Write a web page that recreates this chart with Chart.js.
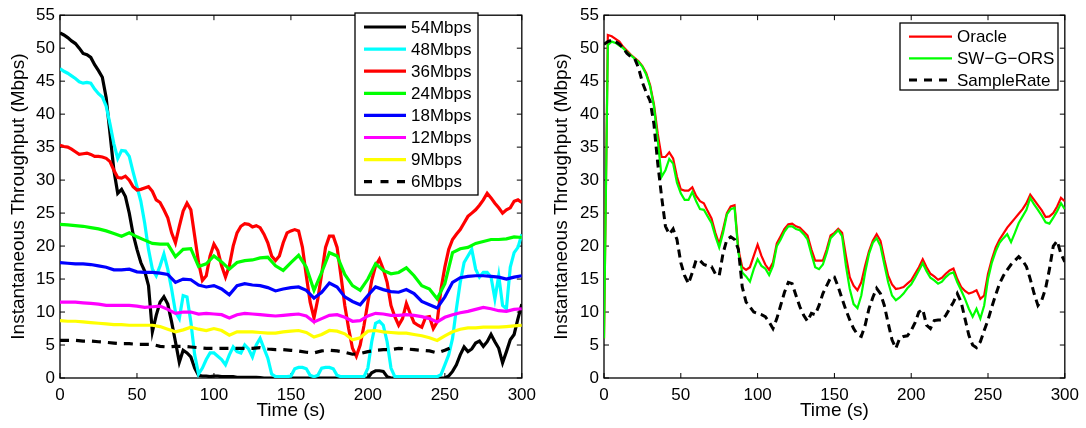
<!DOCTYPE html>
<html>
<head>
<meta charset="utf-8">
<script src="https://cdn.jsdelivr.net/npm/chart.js@4.4.1/dist/chart.umd.min.js"></script>
<style>
  html, body { margin: 0; padding: 0; background: #fff; }
  #wrap { position: relative; width: 1086px; height: 428px; }
  canvas { position: absolute; top: 0; }
  #left { left: 0; }
  #right { left: 543px; }
</style>
</head>
<body>
<div id="wrap">
  <canvas id="left" width="543" height="428"></canvas>
  <canvas id="right" width="543" height="428"></canvas>
</div>
<script>
// time grids (s)
const timeFine = [0,2.5,5,7.5,10,12.5,15,17.5,20,22.5,25,27.5,30,32.5,35,37.5,40,42.5,45,47.5,
  50,52.5,55,57.5,60,62.5,65,67.5,70,72.5,75,77.5,80,82.5,85,87.5,90,92.5,95,97.5,
  100,102.5,105,107.5,110,112.5,115,117.5,120,122.5,125,127.5,130,132.5,135,137.5,140,142.5,145,147.5,
  150,152.5,155,157.5,160,162.5,165,167.5,170,172.5,175,177.5,180,182.5,185,187.5,190,192.5,195,197.5,
  200,202.5,205,207.5,210,212.5,215,217.5,220,222.5,225,227.5,230,232.5,235,237.5,240,242.5,245,247.5,
  250,252.5,255,257.5,260,262.5,265,267.5,270,272.5,275,277.5,280,282.5,285,287.5,290,292.5,295,297.5,300];
const timeCoarse = [0,5,10,15,20,25,30,35,40,45,50,55,60,65,70,75,80,85,90,95,
  100,105,110,115,120,125,130,135,140,145,150,155,160,165,170,175,180,185,190,195,
  200,205,210,215,220,225,230,235,240,245,250,255,260,265,270,275,280,285,290,295,300];

const xTicks = [0, 50, 100, 150, 200, 250, 300];
const yTicks = [0, 5, 10, 15, 20, 25, 30, 35, 40, 45, 50, 55];

// left panel: fixed rates (Mbps)
const rate54 = [52.3,52.0,51.6,51.1,50.7,50.0,49.2,49.0,48.6,47.5,
  46.6,45.6,42.5,37.0,31.5,28.0,28.6,27.5,25.0,21.8,
  19.5,17.5,16.2,14.0,7.0,9.5,11.5,12.3,11.2,8.5,
  5.5,2.4,4.2,3.8,3.2,1.5,0.4,0.3,0.3,0.2,
  0.3,0.3,0.2,0.2,0.2,0.2,0.1,0.1,0.1,0.1,
  0.1,0.1,0.05,0,0,0,0,0,0,0,
  0,0,0,0,0,0,0,0,0,0,
  0,0,0,0,0,0,0,0,0,0,
  0,0.8,1.1,1.1,1.0,0.2,0,0,0,0,
  0,0,0,0,0,0,0,0,0,0,
  0,0.3,1.0,2.0,3.5,4.7,4.0,4.4,5.3,5.6,
  4.8,5.5,6.6,5.5,4.5,2.3,4.0,5.8,6.6,9.0,
  11.2];
const rate48 = [46.9,46.5,46.2,45.8,45.4,44.9,44.7,44.8,44.7,43.8,
  43.1,42.6,41.2,38.5,35.5,33.3,34.5,34.4,33.6,31.2,
  29.0,26.8,23.5,19.5,16.5,15.5,17.0,18.8,16.5,13.5,
  10.0,9.0,12.5,12.3,8.5,3.5,0.6,1.5,2.8,3.8,
  3.8,3.3,2.8,2.0,3.5,4.7,4.0,3.8,5.0,4.4,
  3.2,5.0,6.0,4.5,3.0,0.6,0.2,0.2,0.2,0.2,
  0.3,1.4,1.6,1.6,1.4,0.4,0.2,0.4,1.5,1.6,
  1.6,1.4,0.4,0.2,0.2,0.2,0.2,0.2,0.2,0.2,
  1.5,5.5,8.3,8.6,8.0,5.5,1.5,0.2,0.2,0.2,
  0.2,0.2,0.2,0.2,0.2,0.2,0.2,0.2,0.2,0.5,
  2.0,3.5,6.0,10.5,14.5,17.5,18.5,19.5,16.5,15.3,
  16.0,16.0,15.3,12.0,15.5,11.0,10.5,16.8,19.0,19.8,
  21.8];
const rate36 = [35.3,35.1,35.0,34.7,34.3,33.9,34.0,34.1,33.9,33.6,
  33.6,33.5,33.3,32.8,31.5,30.4,30.3,30.6,30.0,29.0,
  28.5,28.6,28.8,29.0,28.3,27.0,26.6,25.5,24.3,22.0,
  20.5,23.0,25.3,26.5,25.5,21.5,17.5,14.8,15.5,18.5,
  20.3,19.3,17.0,15.3,17.0,20.0,22.0,23.0,23.4,23.3,
  22.9,23.1,22.8,21.8,20.5,18.5,17.8,18.5,20.5,22.0,
  22.3,22.5,22.3,19.8,15.5,11.5,9.1,12.0,15.8,19.8,
  21.5,21.5,19.8,15.5,11.0,7.5,4.5,3.3,5.0,8.0,
  11.5,14.8,17.0,18.0,16.5,14.5,11.0,9.3,8.0,9.0,
  11.3,9.8,8.4,8.0,7.7,9.2,9.3,7.5,8.5,13.5,
  16.8,19.5,21.0,21.8,22.5,23.5,24.5,25.0,25.5,26.2,
  27.0,28.0,27.3,26.5,25.8,25.0,25.5,25.8,26.8,27.0,
  26.6];
const rate24 = [23.3,23.2,23.1,23.0,22.8,22.6,22.3,21.9,21.5,22.0,
  21.4,20.9,20.4,20.3,20.3,18.4,19.5,19.6,16.9,17.3,
  18.5,17.6,16.5,17.5,17.8,17.9,18.2,18.3,17.0,16.3,
  17.5,18.6,16.8,13.3,16.0,19.0,18.5,15.7,14.0,13.3,
  15.0,17.3,16.3,15.8,16.0,16.7,15.5,14.0,13.5,12.0,
  14.3,19.0,19.6,19.8,20.4,20.7,21.0,21.0,21.1,21.4,
  21.3];
const rate18 = [17.5,17.4,17.3,17.3,17.2,17.0,16.8,16.4,16.4,16.5,
  16.1,16.0,16.0,15.9,15.7,14.5,15.0,14.9,14.1,13.8,
  14.0,13.5,12.6,14.0,14.3,14.1,14.0,13.7,13.2,13.5,
  13.7,13.8,13.3,12.1,13.0,14.4,13.8,12.3,11.6,11.1,
  12.5,13.8,13.4,13.1,13.0,13.4,12.8,11.6,11.1,10.6,
  12.3,14.5,15.2,15.4,15.5,15.5,15.4,15.3,15.0,15.3,
  15.5];
const rate12 = [11.5,11.5,11.5,11.4,11.3,11.2,11.0,11.0,11.0,11.0,
  10.9,10.7,10.8,10.9,10.4,9.8,10.0,10.0,9.7,9.8,
  9.7,9.6,9.1,9.6,9.8,9.7,9.6,9.5,9.4,9.5,
  9.6,9.7,9.4,8.5,9.0,9.5,9.6,9.2,8.6,8.7,
  9.4,9.8,9.7,9.5,9.5,9.6,9.5,9.3,9.0,8.5,
  9.2,9.6,9.9,10.1,10.4,10.7,10.5,10.2,10.1,10.4,
  10.5];
const rate9 = [8.7,8.6,8.6,8.5,8.4,8.3,8.2,8.1,8.1,8.0,
  8.0,8.0,8.0,7.8,7.4,7.0,7.3,7.7,7.4,7.2,
  7.5,7.2,6.5,7.0,7.0,7.0,6.9,6.8,6.8,7.0,
  7.1,7.2,6.9,6.2,6.6,7.2,7.1,6.7,5.8,6.1,
  7.1,7.2,7.0,6.9,6.8,6.8,6.6,6.4,6.1,5.7,
  6.4,7.0,7.4,7.6,7.6,7.7,7.7,7.7,7.8,7.9,
  8.0];
const rate6 = [5.7,5.7,5.7,5.6,5.6,5.5,5.4,5.3,5.2,5.2,
  5.1,5.1,5.1,4.8,4.7,4.8,4.8,4.7,4.6,4.5,
  4.5,4.5,4.5,4.5,4.5,4.5,4.6,4.4,4.3,4.3,
  4.2,4.1,3.9,3.8,4.1,4.2,4.1,3.9,3.6,3.7,
  4.0,4.2,4.3,4.3,4.5,4.4,4.3,4.2,4.1,3.8,
  4.2,4.7,null,null,null,null,null,null,null,null,
  null];

// right panel: rate selection schemes (Mbps)
const oracle = [6.0,52.0,51.8,51.4,51.0,50.2,49.6,49.0,48.5,48.0,
  47.3,46.2,44.4,41.5,37.0,33.5,33.5,34.2,33.3,30.5,
  28.6,28.4,28.4,28.9,27.6,26.8,26.5,25.3,24.2,22.0,
  20.3,22.5,25.0,26.0,26.2,19.5,16.8,16.4,16.8,18.5,
  20.2,18.5,17.2,16.4,17.5,20.4,21.5,22.6,23.3,23.4,
  23.0,22.8,22.2,21.6,19.5,17.8,17.8,17.8,19.5,21.6,
  22.0,22.6,22.0,18.5,15.3,14.0,13.3,14.5,17.0,19.2,
  20.8,21.8,20.8,18.0,15.5,14.2,13.5,13.6,13.8,14.3,
  14.8,15.8,16.8,18.0,16.8,15.8,15.4,14.9,15.2,15.8,
  16.3,16.6,15.0,13.8,13.2,12.8,13.0,13.3,12.0,12.5,
  15.8,18.0,19.8,21.0,21.9,22.8,23.5,24.2,24.9,25.6,
  26.5,27.8,27.0,26.2,25.4,24.4,24.5,25.0,26.0,27.3,
  26.8];
const swgors = [6.0,50.5,51.0,50.8,50.4,50.0,49.4,48.9,48.4,47.9,
  47.2,46.0,44.2,41.2,36.0,30.5,31.5,33.2,32.5,29.6,
  28.0,27.0,27.0,28.2,26.8,25.6,25.5,24.5,23.5,21.5,
  19.8,22.0,24.8,25.6,25.8,19.0,16.0,15.4,14.6,16.5,
  18.0,17.0,16.6,15.6,17.0,20.0,21.0,22.2,23.0,23.0,
  22.6,22.4,21.8,21.0,18.8,16.8,16.5,17.2,19.0,21.2,
  21.8,22.4,21.5,17.0,13.5,11.2,10.6,12.5,16.0,18.8,
  20.5,21.2,20.0,17.2,14.5,12.5,11.8,12.2,12.8,13.6,
  14.2,15.2,16.3,17.4,16.2,15.2,14.8,14.3,14.6,15.3,
  15.8,16.0,14.5,13.3,12.0,10.5,9.3,10.5,9.0,11.0,
  15.0,17.5,19.2,20.5,21.2,21.8,20.6,22.0,23.5,24.5,
  25.5,27.3,26.3,25.5,24.6,23.6,23.4,24.3,25.3,26.5,
  25.6];
const sampleRate = [50.6,51.0,51.2,51.0,50.6,50.0,49.2,48.7,48.4,47.0,
  44.8,43.3,42.0,38.5,32.5,27.5,23.0,21.8,22.6,21.0,
  17.5,15.5,14.3,16.0,17.9,17.8,17.2,17.0,16.9,15.8,
  15.5,18.9,21.0,21.4,21.0,19.5,13.8,11.5,10.8,10.0,
  9.8,9.6,9.3,8.5,7.5,9.0,11.0,13.0,14.5,14.3,
  12.5,10.8,9.5,8.6,9.8,9.6,11.0,12.8,14.0,15.2,
  15.3,13.8,12.0,10.3,8.8,7.5,6.6,6.3,8.0,10.5,
  12.2,13.6,12.8,11.0,8.3,5.8,4.5,6.0,6.3,6.4,
  7.2,8.4,10.0,10.4,8.0,7.5,8.7,8.8,8.8,9.5,
  10.5,11.5,12.8,11.5,9.0,6.5,5.0,4.6,5.5,7.2,
  8.8,10.8,12.6,14.3,15.5,16.4,17.2,17.8,18.4,17.8,
  16.9,15.0,12.8,11.0,11.8,13.6,16.5,20.0,20.8,18.8,
  17.6];

Chart.defaults.font.family = '"Liberation Sans", Arial, sans-serif';
Chart.defaults.color = '#000';

function pairs(times, values) {
  return times.map((t, i) => ({ x: t, y: values[i] }));
}

// matlab-like box with inward ticks
const boxFrame = {
  id: 'boxFrame',
  beforeDatasetsDraw(chart) {
    const { ctx, chartArea: a, scales: { x, y } } = chart;
    ctx.save();
    ctx.strokeStyle = '#000';
    ctx.lineWidth = 1.3;
    ctx.strokeRect(a.left, a.top, a.right - a.left, a.bottom - a.top);
    ctx.beginPath();
    xTicks.forEach(v => {
      const px = x.getPixelForValue(v);
      ctx.moveTo(px, a.bottom); ctx.lineTo(px, a.bottom - 5);
      ctx.moveTo(px, a.top); ctx.lineTo(px, a.top + 5);
    });
    yTicks.forEach(v => {
      const py = y.getPixelForValue(v);
      ctx.moveTo(a.left, py); ctx.lineTo(a.left + 5, py);
      ctx.moveTo(a.right, py); ctx.lineTo(a.right - 5, py);
    });
    ctx.lineWidth = 1;
    ctx.stroke();
    ctx.restore();
  }
};

// legend box drawn inside the axes
const boxLegend = {
  id: 'boxLegend',
  afterDraw(chart, args, o) {
    const ctx = chart.ctx;
    ctx.save();
    ctx.fillStyle = '#fff';
    ctx.fillRect(o.x, o.y, o.w, o.h);
    ctx.strokeStyle = '#000';
    ctx.lineWidth = 1.3;
    ctx.strokeRect(o.x, o.y, o.w, o.h);
    chart.data.datasets.forEach((ds, i) => {
      const cy = o.y + o.first + i * o.row;
      ctx.beginPath();
      ctx.setLineDash(ds.borderDash ? o.dash : []);
      ctx.strokeStyle = ds.borderColor;
      ctx.lineWidth = ds.borderWidth;
      ctx.moveTo(o.x + o.lx1, cy);
      ctx.lineTo(o.x + o.lx2, cy);
      ctx.stroke();
      ctx.setLineDash([]);
      ctx.fillStyle = '#000';
      ctx.font = '17px "Liberation Sans", Arial, sans-serif';
      ctx.textBaseline = 'middle';
      ctx.fillText(ds.label, o.x + o.tx, cy + 1);
    });
    ctx.restore();
  }
};

function makeScales(yWidth) {
  return {
    x: {
      type: 'linear', min: 0, max: 300,
      grid: { display: false, drawTicks: false },
      border: { display: false },
      ticks: { stepSize: 50, padding: 7, font: { size: 17 }, maxRotation: 0 },
      title: { display: true, text: 'Time (s)', font: { size: 19 }, padding: { top: 0, bottom: 6 } },
      afterFit(s) { s.height = 50; }
    },
    y: {
      min: 0, max: 55,
      grid: { display: false, drawTicks: false },
      border: { display: false },
      ticks: { stepSize: 5, padding: 5, font: { size: 17 } },
      title: { display: true, text: 'Instantaneous Throughput (Mbps)', font: { size: 19 }, padding: { top: 7, bottom: 0 } },
      afterFit(s) { s.width = yWidth; }
    }
  };
}

function line(label, color, times, values, width, order, dash) {
  const ds = {
    label: label,
    data: pairs(times, values),
    borderColor: color,
    borderWidth: width,
    pointRadius: 0,
    tension: 0,
    fill: false,
    order: order
  };
  if (dash) ds.borderDash = dash;
  return ds;
}

new Chart(document.getElementById('left'), {
  type: 'line',
  data: {
    datasets: [
      line('54Mbps', '#000000', timeFine, rate54, 3.2, 8),
      line('48Mbps', '#00ffff', timeFine, rate48, 3.2, 7),
      line('36Mbps', '#ff0000', timeFine, rate36, 3.2, 6),
      line('24Mbps', '#00ff00', timeCoarse, rate24, 3.2, 5),
      line('18Mbps', '#0000ff', timeCoarse, rate18, 3.2, 4),
      line('12Mbps', '#ff00ff', timeCoarse, rate12, 3.2, 3),
      line('9Mbps', '#ffff00', timeCoarse, rate9, 3.2, 2),
      line('6Mbps', '#000000', timeCoarse, rate6, 3.2, 1, [9, 7])
    ]
  },
  options: {
    responsive: false,
    animation: false,
    layout: { padding: { left: 0, top: 13, right: 19, bottom: 0 } },
    scales: makeScales(60),
    plugins: {
      legend: { display: false },
      tooltip: { enabled: false },
      boxLegend: { x: 355, y: 13, w: 123, h: 182, first: 14, row: 22.1, lx1: 9, lx2: 51, tx: 56, dash: [8, 8.5] }
    }
  },
  plugins: [boxFrame, boxLegend]
});

new Chart(document.getElementById('right'), {
  type: 'line',
  data: {
    datasets: [
      line('Oracle', '#ff0000', timeFine, oracle, 2.2, 3),
      line('SW\u2212G\u2212ORS', '#00ff00', timeFine, swgors, 2.2, 2),
      line('SampleRate', '#000000', timeFine, sampleRate, 3, 1, [8, 5])
    ]
  },
  options: {
    responsive: false,
    animation: false,
    layout: { padding: { left: 0, top: 15, right: 21, bottom: 0 } },
    scales: makeScales(61),
    plugins: {
      legend: { display: false },
      tooltip: { enabled: false },
      boxLegend: { x: 357, y: 23, w: 158, h: 67, first: 13.7, row: 21.7, lx1: 9, lx2: 52, tx: 57, dash: [8, 7] }
    }
  },
  plugins: [boxFrame, boxLegend]
});
</script>
</body>
</html>
